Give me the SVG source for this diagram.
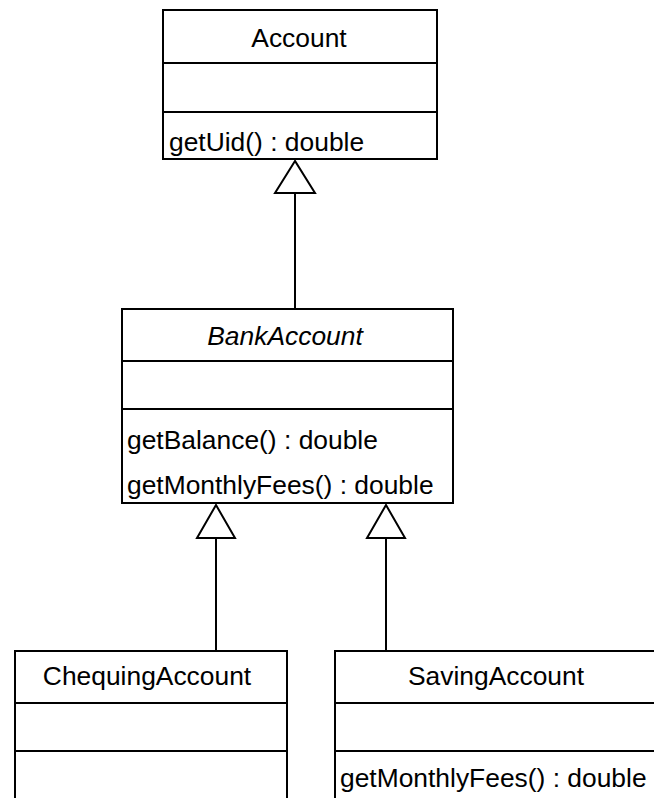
<svg xmlns="http://www.w3.org/2000/svg" width="654" height="798" viewBox="0 0 654 798">
<style>
.box{fill:#fff;stroke:#000;stroke-width:2}
.ln{stroke:#000;stroke-width:2;fill:none}
text{font-family:"Liberation Sans",Arial,Helvetica,sans-serif;font-size:26.4px;fill:#000}
.c{text-anchor:middle}
.i{font-style:italic}
.tri{fill:#fff;stroke:#000;stroke-width:2;stroke-linejoin:miter}
</style>
<rect width="654" height="798" fill="#fff"/>
<g id="connectors">
<line class="ln" x1="295" y1="193" x2="295" y2="309"/>
<polygon class="tri" points="295,161 275,193 315,193"/>
<line class="ln" x1="216" y1="538" x2="216" y2="651"/>
<polygon class="tri" points="216,505 197,538 235,538"/>
<line class="ln" x1="386" y1="538" x2="386" y2="651"/>
<polygon class="tri" points="386,505 367,538 405,538"/>
</g>
<g id="Account">
<rect class="box" x="163" y="10" width="274" height="149"/>
<line class="ln" x1="163" y1="63" x2="437" y2="63"/>
<line class="ln" x1="163" y1="112" x2="437" y2="112"/>
<text class="c" x="299" y="47">Account</text>
<text x="169" y="151">getUid() : double</text>
</g>
<g id="BankAccount">
<rect class="box" x="122" y="309" width="331" height="194"/>
<line class="ln" x1="122" y1="361" x2="453" y2="361"/>
<line class="ln" x1="122" y1="409" x2="453" y2="409"/>
<text class="c i" x="285" y="345">BankAccount</text>
<text x="127" y="449">getBalance() : double</text>
<text x="127" y="494">getMonthlyFees() : double</text>
</g>
<g id="ChequingAccount">
<rect class="box" x="15" y="651" width="272" height="160"/>
<line class="ln" x1="15" y1="703" x2="287" y2="703"/>
<line class="ln" x1="15" y1="751" x2="287" y2="751"/>
<text class="c" x="147" y="685">ChequingAccount</text>
</g>
<g id="SavingAccount">
<rect class="box" x="335" y="651" width="322" height="160"/>
<line class="ln" x1="335" y1="703" x2="657" y2="703"/>
<line class="ln" x1="335" y1="751" x2="657" y2="751"/>
<text class="c" x="496" y="685">SavingAccount</text>
<text x="340" y="787">getMonthlyFees() : double</text>
</g>
</svg>
